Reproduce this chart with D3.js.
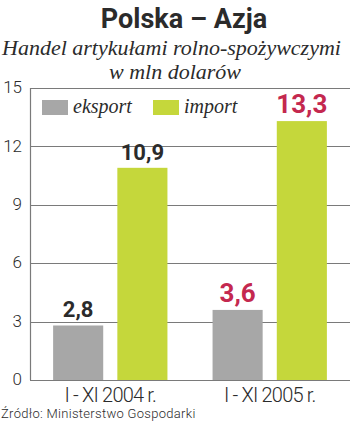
<!DOCTYPE html>
<html>
<head>
<meta charset="utf-8">
<script src="https://cdn.jsdelivr.net/npm/d3@7"></script>
<style>
  body { margin: 0; background: #fff; }
  svg { display: block; }
</style>
</head>
<body>
<div id="chart"></div>
<script>
var periods = ["I - XI 2004 r.", "I - XI 2005 r."];
var seriesNames = ["eksport", "import"];
var eksport = [2.8, 3.6];
var imports = [10.9, 13.3];
var yTicks = [0, 3, 6, 9, 12, 15];

var W = 350, H = 425;
var margin = {top: 88, right: 0, bottom: 45, left: 30};
var width = W - margin.left - margin.right,
    height = H - margin.top - margin.bottom;

var svg = d3.select("#chart").append("svg")
    .attr("width", W).attr("height", H);

// title
svg.append("text")
  .attr("x", 184).attr("y", 28)
  .attr("text-anchor", "middle")
  .style("font-family", "Roboto, 'Open Sans', sans-serif")
  .style("font-weight", "bold")
  .style("font-size", "27px")
  .style("fill", "#2b2b2b")
  .text("Polska – Azja");

svg.append("text")
  .attr("x", 2).attr("y", 55)
  .style("font-family", "'Liberation Serif', 'DejaVu Serif', serif")
  .style("font-style", "italic")
  .style("font-size", "22px")
  .style("fill", "#2b2b2b")
  .text("Handel artykułami rolno-spożywczymi");

svg.append("text")
  .attr("x", 175).attr("y", 79)
  .attr("text-anchor", "middle")
  .style("font-family", "'Liberation Serif', 'DejaVu Serif', serif")
  .style("font-style", "italic")
  .style("font-size", "22px")
  .style("fill", "#2b2b2b")
  .text("w mln dolarów");

var g = svg.append("g")
  .attr("transform", "translate(" + margin.left + "," + margin.top + ")");

var y = d3.scaleLinear().domain([0, 15]).range([height, 0]);
var x0 = d3.scaleBand().domain(periods).range([0, width]).paddingInner(0.283).paddingOuter(0.145);
var x1 = d3.scaleBand().domain(seriesNames).range([0, x0.bandwidth()]).paddingInner(0.22).paddingOuter(0);

// grid
g.append("g")
  .selectAll("line")
  .data(yTicks)
  .enter().append("line")
    .attr("x1", 0).attr("x2", width)
    .attr("y1", function(d) { return Math.round(y(d)) + 0.5; })
    .attr("y2", function(d) { return Math.round(y(d)) + 0.5; })
    .style("stroke", "#7a7a7a")
    .style("stroke-width", 1.2);

g.append("line")
  .attr("x1", 0.5).attr("x2", 0.5)
  .attr("y1", 0).attr("y2", height)
  .style("stroke", "#7a7a7a")
  .style("stroke-width", 1.2);

// y labels
g.append("g")
  .selectAll("text")
  .data(yTicks)
  .enter().append("text")
    .attr("x", -8)
    .attr("y", function(d) { return y(d); })
    .attr("dy", "0.3em")
    .attr("text-anchor", "end")
    .style("font-family", "Roboto, sans-serif")
    .style("font-weight", "300")
    .style("font-size", "17px")
    .style("fill", "#2b2b2b")
    .text(function(d) { return d; });

var colors = {eksport: "#a7a7a7", import: "#c5d73b"};
var rows = periods.map(function(p, i) {
  return {period: p, vals: [
    {key: "eksport", v: eksport[i], red: i == 1},
    {key: "import", v: imports[i], red: i == 1}
  ]};
});

var grp = g.selectAll(".grp")
  .data(rows)
  .enter().append("g")
    .attr("transform", function(d) { return "translate(" + x0(d.period) + ",0)"; });

grp.selectAll("rect")
  .data(function(d) { return d.vals; })
  .enter().append("rect")
    .attr("x", function(d) { return x1(d.key); })
    .attr("width", x1.bandwidth())
    .attr("y", function(d) { return y(d.v); })
    .attr("height", function(d) { return height - y(d.v); })
    .style("fill", function(d) { return colors[d.key]; });

grp.selectAll(".val")
  .data(function(d) { return d.vals; })
  .enter().append("text")
    .attr("x", function(d) { return x1(d.key) + x1.bandwidth() / 2; })
    .attr("y", function(d) { return y(d.v) - 8; })
    .attr("text-anchor", "middle")
    .style("font-family", "Roboto, sans-serif")
    .style("font-weight", "bold")
    .style("font-size", function(d) { return d.red ? "26px" : "22px"; })
    .style("fill", function(d) { return d.red ? "#c4284f" : "#2b2b2b"; })
    .text(function(d) { return String(d.v).replace(".", ","); });

// x labels
svg.append("g")
  .selectAll("text")
  .data(periods)
  .enter().append("text")
    .attr("x", function(d) { return margin.left + x0(d) + x0.bandwidth() / 2; })
    .attr("y", 402)
    .attr("text-anchor", "middle")
    .style("font-family", "Roboto, sans-serif")
    .style("font-weight", "300")
    .style("font-size", "20px")
    .style("letter-spacing", "-0.8px")
    .style("fill", "#2b2b2b")
    .text(function(d) { return d; });

// legend
var legend = svg.append("g");
var legendX = [42, 153];
seriesNames.forEach(function(s, i) {
  legend.append("rect")
    .attr("x", legendX[i]).attr("y", 100)
    .attr("width", 26).attr("height", 15)
    .style("fill", colors[s]);
  legend.append("text")
    .attr("x", legendX[i] + 31).attr("y", 113)
    .style("font-family", "'Liberation Serif', 'DejaVu Serif', serif")
    .style("font-style", "italic")
    .style("font-size", "20px")
    .style("fill", "#2b2b2b")
    .text(s);
});

svg.append("text")
  .attr("x", 1).attr("y", 418)
  .style("font-family", "Roboto, sans-serif")
  .style("font-weight", "300")
  .style("font-size", "13px")
  .style("letter-spacing", "0.3px")
  .style("fill", "#2b2b2b")
  .text("Źródło: Ministerstwo Gospodarki");
</script>
</body>
</html>
